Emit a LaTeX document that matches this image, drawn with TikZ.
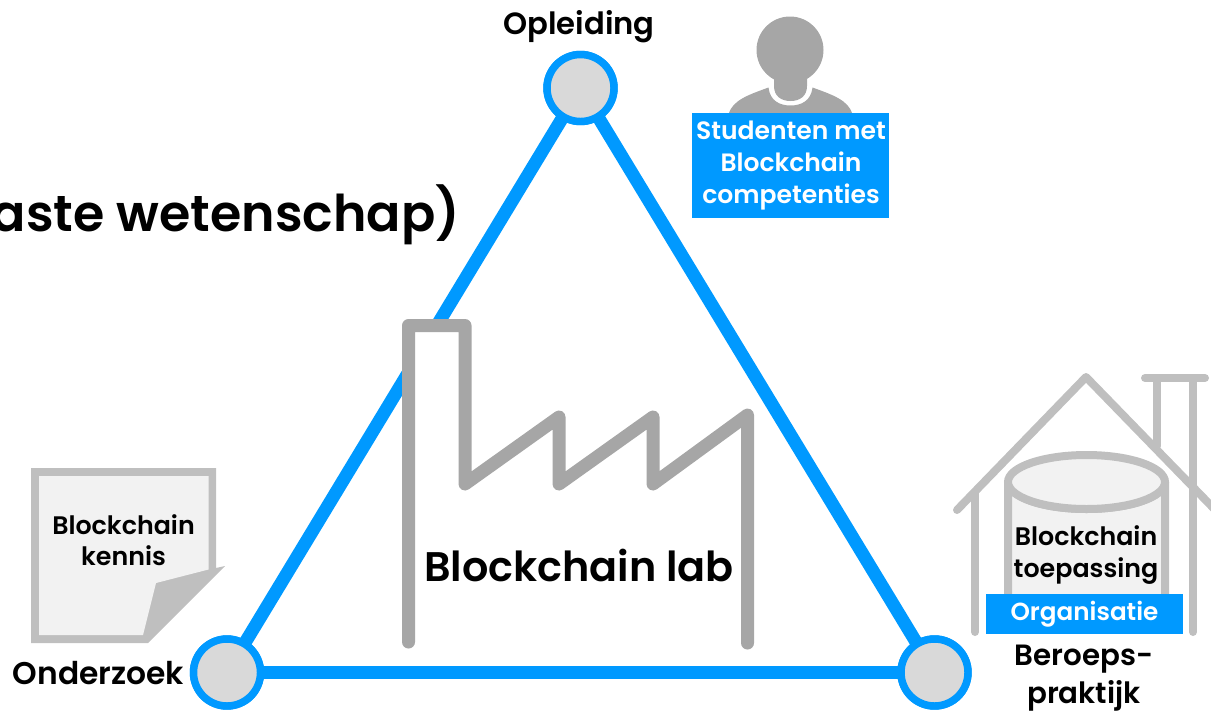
\documentclass[tikz,border=0pt]{standalone}
\usepackage{fontspec}
\setmainfont{Poppins}[BoldFont={Poppins SemiBold}]
\definecolor{bluec}{HTML}{0099FF}
\definecolor{darkg}{HTML}{A6A6A6}
\definecolor{lightg}{HTML}{BFBFBF}
\definecolor{paper}{HTML}{F2F2F2}
\definecolor{dotg}{HTML}{D9D9D9}
\newcommand{\fs}[2]{\fontsize{#1}{#2}\selectfont\bfseries}
\tikzset{
  vertexdot/.style={circle,draw=bluec,fill=dotg,line width=5.6pt,inner sep=0pt,outer sep=0pt,minimum size=50.25pt},
  edgeline/.style={draw=bluec,line width=9.75pt},
  factoryline/.style={draw=darkg,line width=9.75pt,line cap=round,line join=round},
  houseline/.style={draw=lightg,line width=6pt,line cap=round,line join=round},
  bluebox/.style={fill=bluec,inner sep=0pt,outer sep=0pt},
  lbl/.style={inner sep=0pt,outer sep=0pt,align=center},
  whitelbl/.style={lbl,text=white},
}
\begin{document}
\begin{tikzpicture}[x=0.75pt,y=-0.75pt]
\useasboundingbox (0,0) rectangle (1211,711);
\clip (0,0) rectangle (1211,711);
% title
\node[inner sep=0pt,outer sep=0pt,anchor=base east,font=\fs{38}{40}] (title) at (460,231) {aste wetenschap)};
% triangle
\node[vertexdot] (top) at (580.5,88) {};
\node[vertexdot] (left) at (227,672.5) {};
\node[vertexdot] (right) at (934.5,672.5) {};
\draw[edgeline] (top) -- (left);
\draw[edgeline] (left) -- (right);
\draw[edgeline] (right) -- (top);
% factory
\fill[white] (408.5,642) -- (408.5,325.5) -- (465,325.5) -- (465,484) -- (559,417) -- (559,484) -- (653,417) -- (653,484) -- (747.5,415) -- (747.5,643) -- cycle;
\draw[factoryline] (408.5,642) -- (408.5,325.5) -- (465,325.5) -- (465,484) -- (559,417) -- (559,484) -- (653,417) -- (653,484) -- (747.5,415) -- (747.5,643);
\node[lbl,font=\fs{31}{33},anchor=base] (lab) at (579,581) {Blockchain lab};
% labels
\node[lbl,font=\fs{23}{25}] (opl) at (579,27) {Opleiding};
\node[lbl,font=\fs{23.5}{25}] (ond) at (98.5,673) {Onderzoek};
% person
\fill[darkg] (790,50) circle (33.5);
\fill[darkg] (774,70) -- (774,86) .. controls (774,96) and (781,101) .. (790.5,101) .. controls (800,101) and (807,96) .. (807,86) -- (807,70) -- cycle;
\fill[darkg] (728.5,114) .. controls (733,100) and (748,95) .. (768.5,87.5) .. controls (770,101) and (780,105.5) .. (790.5,105.5) .. controls (801,105.5) and (811,101) .. (812.5,87.5) .. controls (833,95) and (848,100) .. (852.5,114) -- cycle;
\node[bluebox,minimum width=147.75pt,minimum height=78.75pt] (stud) at (790.5,165.5) {};
\node[whitelbl,font=\fs{18.8}{24}] (studt) at (791,166) {Studenten met\\Blockchain\\competenties};
% document
\fill[lightg] (31,468) -- (216,468) -- (216,568) -- (225,566) -- (148,643) -- (31,643) -- cycle;
\fill[paper] (39,476) -- (208.5,476) -- (208.5,569.5) -- (156,583) -- (143,635) -- (39,635) -- cycle;
\node[lbl,font=\fs{19}{23.5},text=black] (kennis) at (123.5,540) {Blockchain\\kennis};
% house
\draw[houseline] (957,510) -- (1086,377) -- (1225,520);
\draw[houseline] (975,492) -- (975,632);
\draw[houseline] (1193,380) -- (1193,632);
\draw[houseline] (1157,380) -- (1157,446);
\draw[houseline] (1145,378) -- (1205,378);
\path[fill=paper] (1008,482) -- (1008,600) -- (1165,600) -- (1165,482) -- cycle;
\draw[draw=lightg,line width=6pt] (1008,600) -- (1008,482) arc[start angle=180,end angle=0,x radius=78.5,y radius=27] -- (1165,600);
\draw[draw=lightg,fill=paper,line width=6pt] (1086.5,482) ellipse[x radius=78.5,y radius=27];
\node[lbl,font=\fs{19}{24},text=black] (toep) at (1086,555) {Blockchain\\toepassing};
\node[bluebox,minimum width=147.75pt,minimum height=30pt] (org) at (1084.5,614) {};
\node[whitelbl,font=\fs{18.5}{20}] (orgt) at (org.center) {Organisatie};
\node[lbl,font=\fs{22}{28.5}] (ber) at (1084,678) {Beroeps-\\praktijk};
% redraw vertices above edges
\node[vertexdot] at (top) {};
\node[vertexdot] at (left) {};
\node[vertexdot] at (right) {};
\end{tikzpicture}
\end{document}
